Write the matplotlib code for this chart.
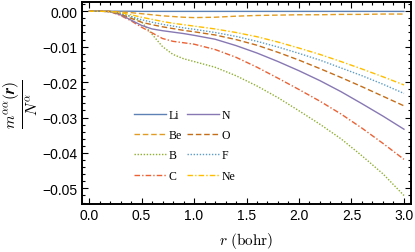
import numpy as np
import matplotlib
matplotlib.use('Agg')
import matplotlib.pyplot as plt
from matplotlib.ticker import MultipleLocator, FuncFormatter

plt.rcParams['mathtext.fontset'] = 'cm'

# radial grid (bohr)
r = [0.0, 0.1, 0.2, 0.3, 0.4, 0.5, 0.6, 0.7, 0.8, 0.9, 1.0,
     1.2, 1.4, 1.6, 1.8, 2.0, 2.2, 2.4, 2.6, 2.8, 3.0]

li = [0, 0, 0, 0, 0, -0.00005, -0.00005, -0.00005, -0.00005, -0.00005, -0.00005,
      -0.00005, -0.00005, -0.00005, -0.00005, -0.00005, -0.00005, -0.00005, -0.00005, -0.00005, -0.00005]
be = [0, 0, 0, -0.0002, -0.0004, -0.0007, -0.0010, -0.0013, -0.0015, -0.0017, -0.0018,
      -0.0017, -0.0014, -0.0012, -0.0011, -0.0010, -0.0010, -0.0009, -0.0009, -0.0008, -0.0008]
b = [0, 0, -0.0001, -0.0006, -0.0015, -0.0030, -0.0065, -0.0100, -0.0122, -0.0134, -0.0142,
     -0.0158, -0.0182, -0.0211, -0.0244, -0.0281, -0.0319, -0.0360, -0.0408, -0.0459, -0.0520]
c = [0, 0, -0.0001, -0.0012, -0.0027, -0.0045, -0.0061, -0.0077, -0.0085, -0.0089, -0.0093,
     -0.0108, -0.0130, -0.0158, -0.0189, -0.0221, -0.0254, -0.0290, -0.0330, -0.0373, -0.0418]
n = [0, 0, -0.0001, -0.0010, -0.0025, -0.0040, -0.0050, -0.0055, -0.0059, -0.0063, -0.0068,
     -0.0079, -0.0097, -0.0118, -0.0142, -0.0168, -0.0196, -0.0227, -0.0261, -0.0296, -0.0333]
o = [0, 0, -0.0001, -0.0008, -0.0020, -0.0031, -0.0038, -0.0044, -0.0049, -0.0054, -0.0058,
     -0.0067, -0.0080, -0.0096, -0.0116, -0.0138, -0.0162, -0.0187, -0.0213, -0.0240, -0.0267]
f = [0, 0, -0.0001, -0.0006, -0.0015, -0.0024, -0.0031, -0.0037, -0.0042, -0.0047, -0.0051,
     -0.0060, -0.0071, -0.0085, -0.0101, -0.0119, -0.0138, -0.0160, -0.0182, -0.0206, -0.0232]
ne = [0, 0, -0.0001, -0.0004, -0.0010, -0.0017, -0.0023, -0.0029, -0.0034, -0.0038, -0.0042,
      -0.0050, -0.0060, -0.0072, -0.0087, -0.0104, -0.0122, -0.0142, -0.0163, -0.0185, -0.0208]

labels = ['Li', 'Be', 'B', 'C', 'N', 'O', 'F', 'Ne']
series = [li, be, b, c, n, o, f, ne]
colors = ['#5E81B5', '#E19C24', '#8FB032', '#EB6235',
          '#8778B3', '#C56E1A', '#5D9EC7', '#FFBF00']
styles = ['-', (0, (4, 2)), (0, (1, 1.2)), (0, (4, 1.5, 1, 1.5)),
          '-', (0, (4, 2)), (0, (1, 1.2)), (0, (4, 1.5, 1, 1.5))]


def fmt(nd):
    def _f(v, pos):
        s = f'{v:.{nd}f}'
        if float(s) == 0:
            s = s.lstrip('-')
        return s.replace('-', '\u2212')
    return FuncFormatter(_f)


fig = plt.figure(figsize=(4.15, 2.53), dpi=100)
ax = fig.add_axes([82 / 415, 48 / 253, 329 / 415, 202 / 253])

for y, lab, col, ls in zip(series, labels, colors, styles):
    ax.plot(r, y, color=col, ls=ls, lw=1.0, label=lab)

ax.set_xlim(-0.067, 3.067)
ax.set_ylim(-0.0544, 0.0026)
ax.xaxis.set_major_locator(MultipleLocator(0.5))
ax.xaxis.set_minor_locator(MultipleLocator(0.1))
ax.yaxis.set_major_locator(MultipleLocator(0.01))
ax.yaxis.set_minor_locator(MultipleLocator(0.002))
ax.xaxis.set_major_formatter(fmt(1))
ax.yaxis.set_major_formatter(fmt(2))
ax.tick_params(which='both', direction='in', top=True, right=True,
               labelsize=10, width=0.8, pad=3)
ax.tick_params(which='major', length=4)
ax.tick_params(which='minor', length=2)
for lab in ax.get_xticklabels() + ax.get_yticklabels():
    lab.set_family('Liberation Sans')
for s in ax.spines.values():
    s.set_linewidth(1.4)

ax.set_xlabel(r'$r\ \mathrm{(bohr)}$', fontsize=11, labelpad=6)
ax.set_ylabel(r'$\frac{m^{\alpha\alpha}(\boldsymbol{r})}{N^{\alpha}}$', fontsize=16, labelpad=2)

ax.legend(ncol=2, loc='upper left', bbox_to_anchor=(0.14, 0.5),
          frameon=False, handlelength=2.7, handletextpad=0.2,
          columnspacing=0.5, labelspacing=0.7, borderpad=0,
          prop={'family': 'Liberation Serif', 'size': 8.5})

fig.savefig('out.png', dpi=100)
